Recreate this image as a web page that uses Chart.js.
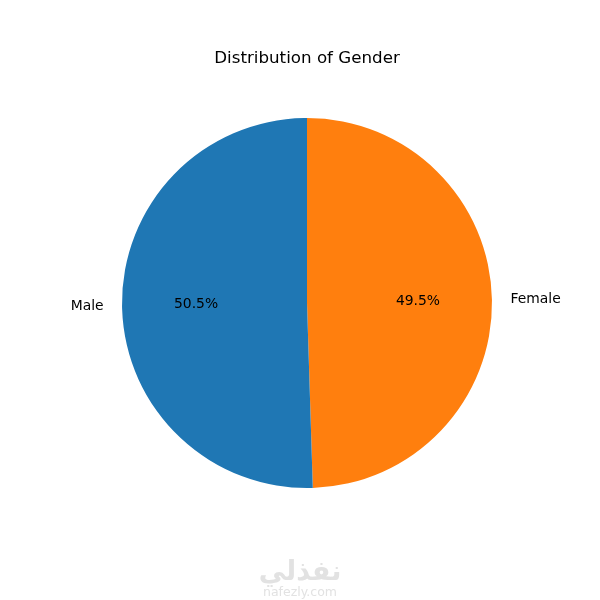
<!DOCTYPE html>
<html lang="en">
  <head>
    <meta charset="UTF-8" />
    <title>Distribution of Gender</title>
    <script src="https://cdn.jsdelivr.net/npm/chart.js"></script>
    <style>
      body { margin: 0; background: #fff; }
    </style>
  </head>
  <body>
    <canvas id="chart" width="600" height="600"></canvas>
    <script>
      const genders = ["Male", "Female"];
      const shares = [50.5, 49.5];
      const sliceColors = ["#1f77b4", "#ff7f0e"];

      // matplotlib draws counterclockwise from the top, Chart.js clockwise,
      // so the order is flipped for the chart
      const labels = genders.slice().reverse();
      const values = shares.slice().reverse();
      const colors = sliceColors.slice().reverse();

      const FONT = "'DejaVu Sans', sans-serif";

      // slice names outside the pie, percentages inside (like autopct)
      const pieLabels = {
        id: "pieLabels",
        afterDatasetsDraw(chart) {
          const ctx = chart.ctx;
          const meta = chart.getDatasetMeta(0);
          ctx.save();
          ctx.font = "13.9px " + FONT;
          ctx.fillStyle = "#000";
          ctx.textBaseline = "middle";
          meta.data.forEach((arc, i) => {
            const p = arc.getProps(["x", "y", "startAngle", "endAngle", "outerRadius"], true);
            const mid = (p.startAngle + p.endAngle) / 2;
            const c = Math.cos(mid), s = Math.sin(mid);
            const lx = p.x + 1.1 * p.outerRadius * c;
            const ly = p.y + 1.1 * p.outerRadius * s;
            ctx.textAlign = c < 0 ? "right" : "left";
            ctx.fillText(labels[i], lx, ly);
            const px = p.x + 0.6 * p.outerRadius * c;
            const py = p.y + 0.6 * p.outerRadius * s;
            ctx.textAlign = "center";
            ctx.fillText(values[i].toFixed(1) + "%", px, py);
          });
          // watermark
          ctx.fillStyle = "#e2e2e2";
          ctx.textAlign = "center";
          ctx.font = "bold 27px 'DejaVu Sans', sans-serif";
          ctx.fillText("نفذلي", 300, 573);
          ctx.font = "12.5px " + FONT;
          ctx.fillText("nafezly.com", 300, 593);
          ctx.restore();
        },
      };

      new Chart(document.getElementById("chart"), {
        type: "pie",
        data: {
          labels: labels,
          datasets: [
            {
              data: values,
              backgroundColor: colors,
              borderWidth: 0,
            },
          ],
        },
        options: {
          responsive: false,
          animation: false,
          layout: { padding: { left: 122, right: 108, top: 0, bottom: 112 } },
          plugins: {
            legend: { display: false },
            tooltip: { enabled: false },
            title: {
              display: true,
              text: "Distribution of Gender",
              color: "#000",
              font: { family: FONT, size: 16.7, weight: "normal", lineHeight: 1.2 },
              padding: { top: 49, bottom: 49 },
            },
          },
        },
        plugins: [pieLabels],
      });
    </script>
  </body>
</html>
